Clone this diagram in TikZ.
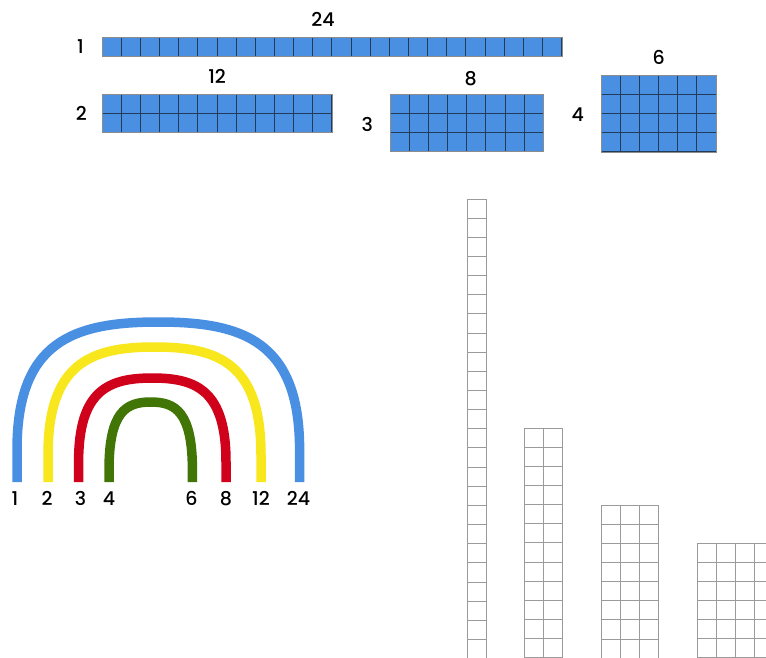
\documentclass[tikz,border=0pt]{standalone}
\usepackage{fontspec}
\setmainfont{Poppins}[UprightFont=* Medium]
\usepackage{xcolor}
\usetikzlibrary{positioning}

\definecolor{tileblue}{HTML}{4A90E2}
\definecolor{tileline}{HTML}{243B57}
\definecolor{bowyellow}{HTML}{F8E71C}
\definecolor{bowred}{HTML}{D0021B}
\definecolor{bowgreen}{HTML}{417505}
\definecolor{gridgray}{HTML}{9B9B9B}

\newcommand{\cell}{19.15}

\begin{document}
\begin{tikzpicture}[
    x=1pt, y=-1pt,
    num/.style    = {inner sep=0pt, font=\fontsize{19}{21}\selectfont,
                     text height=13.3pt, text depth=0pt},
    tiles/.style  = {fill=tileblue, inner sep=0pt, anchor=north west},
    tileln/.style = {draw=tileline, line width=0.8pt},
    tower/.style  = {draw=gridgray, line width=1pt},
    band/.style   = {line width=9.5pt},
]
\useasboundingbox (0,0) rectangle (766,657);
\clip (0,0) rectangle (766,657);

%% ── Blue arrays ───────────────────────────────────────────────────────────
\foreach \nm/\bx/\by/\nc/\nr in {row1/102/37/24/1, row2/102/94/12/2,
                                 row3/390/94/8/3,  row4/601/75/6/4} {
  \pgfmathsetmacro\bw{\nc*\cell}
  \pgfmathsetmacro\bh{\nr*\cell}
  \node[tiles, minimum width=\bw pt, minimum height=\bh pt] (\nm) at (\bx,\by) {};
  \foreach \i in {0,...,\nc}
    \draw[tileln] ({\bx+\i*\cell},\by) -- ({\bx+\i*\cell},{\by+\bh});
  \foreach \j in {0,...,\nr}
    \draw[tileln] (\bx,{\by+\j*\cell}) -- ({\bx+\bw},{\by+\j*\cell});
  \draw[black!45, line width=0.8pt] (\nm.north west) rectangle (\nm.south east);
}

\node[num, above=10pt of row1, xshift=-9pt] (t24) {24};
\node[num, left=18pt of row1] (s1) {1};
\node[num, above=10pt of row2] (t12) {12};
\node[num, left=15pt of row2] (s2) {2};
\node[num, above=8pt of row3, xshift=4pt] (t8) {8};
\node[num, left=17pt of row3, yshift=-2pt] (s3) {3};
\node[num, above=10pt of row4] (t6) {6};
\node[num, left=17pt of row4, yshift=-1.5pt] (s4) {4};

%% ── Towers ────────────────────────────────────────────────────────────────
\foreach \bx/\by/\nc/\nr in {467/199/1/24, 524/428/2/12,
                             601/505/3/8,  697/543/4/6} {
  \pgfmathsetmacro\bw{\nc*\cell}
  \pgfmathsetmacro\bh{\nr*\cell}
  \foreach \i in {0,...,\nc}
    \draw[tower] ({\bx+\i*\cell},\by) -- ({\bx+\i*\cell},{\by+\bh});
  \foreach \j in {0,...,\nr}
    \draw[tower] (\bx,{\by+\j*\cell}) -- ({\bx+\bw},{\by+\j*\cell});
}

%% ── Rainbow ───────────────────────────────────────────────────────────────
\foreach \cx/\a/\yt/\yl/\clr/\nm in {158.3/141.3/322/450/tileblue/bu,
                                     154.5/106.5/347/455/bowyellow/by,
                                     152.3/73.7/378/462/bowred/br,
                                     150.7/41.7/402/470/bowgreen/bg} {
  \draw[band, draw=\clr]
    ({\cx-\a},482) coordinate (l\nm) -- ({\cx-\a},\yl)
    .. controls ({\cx-\a},{\yt+0.15*(\yl-\yt)}) and ({\cx-0.6*\a},\yt) .. (\cx,\yt)
    .. controls ({\cx+0.6*\a},\yt) and ({\cx+\a},{\yt+0.15*(\yl-\yt)}) .. ({\cx+\a},\yl)
    -- ({\cx+\a},482) coordinate (r\nm);
}

\node[num, below=10pt of lbu, xshift=-2pt] (b1) {1};
\node[num, below=10pt of lby, xshift=-1pt] (b2) {2};
\node[num, below=10pt of lbr, xshift=2pt] (b3) {3};
\node[num, below=10pt of lbg] (b4) {4};
\node[num, below=10pt of rbg, xshift=-1pt] (b6) {6};
\node[num, below=10pt of rbr] (b8) {8};
\node[num, below=10pt of rby] (b12) {12};
\node[num, below=10pt of rbu, xshift=-1pt] (b24) {24};

\end{tikzpicture}
\end{document}
